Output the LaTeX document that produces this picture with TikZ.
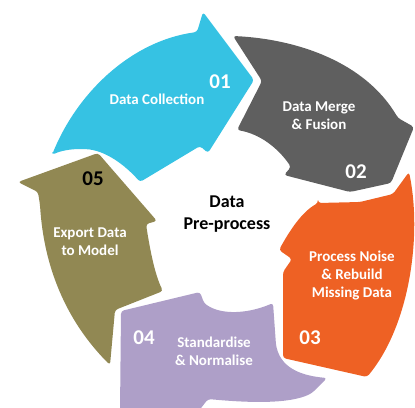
\documentclass[tikz,border=0pt]{standalone}
\usepackage{fontspec}
\newfontfamily\stepfont{Carlito}
\definecolor{collectcyan}{HTML}{36C2E3}
\definecolor{mergegray}{HTML}{5F5F5F}
\definecolor{noiseorange}{HTML}{EE6124}
\definecolor{normpurple}{HTML}{AE9FC8}
\definecolor{exportolive}{HTML}{918853}
\begin{document}
\begin{tikzpicture}[x=1pt,y=-1pt,
  band/.style={rounded corners=3pt},
  steptext/.style={font=\stepfont\bfseries\fontsize{15}{18}\selectfont,text=white,align=center},
  stepnum/.style={font=\stepfont\bfseries\fontsize{21}{21}\selectfont,text=white}]
\useasboundingbox (0,0) rectangle (415,407);

% 01 Data Collection
\fill[collectcyan,band] (52,155) .. controls (77,93) and (131,41) .. (197,32)
  -- (203,12) -- (254,80) -- (208,153) -- (200,146)
  .. controls (180,158) and (160,170) .. (140,182)
  .. controls (125,165) and (105,150) .. (83,149)
  .. controls (70,149) and (60,151) .. (52,155) -- cycle;

% 02 Data Merge & Fusion
\fill[mergegray,band] (233,36) .. controls (297,39) and (365,62) .. (398,118)
  -- (414,127) -- (391,183) -- (350,192) -- (284,175) -- (291,167)
  .. controls (278,148) and (260,134) .. (237,130)
  -- (262,81) -- cycle;

% 03 Process Noise & Rebuild Missing Data
\fill[noiseorange,band] (318,203) -- (360,202) -- (393,194) -- (409,172)
  .. controls (422,235) and (410,325) .. (367,377)
  -- (283,358) -- (283,272) -- (292,259) -- (279,250)
  .. controls (290,230) and (302,212) .. (318,203) -- cycle;

% 04 Standardise & Normalise
\fill[normpurple,band] (273,303) .. controls (250,313) and (222,316) .. (204,303)
  -- (200,292) -- (121,311) -- (120,412) -- (198,412) -- (208,399)
  .. controls (250,403) and (290,404) .. (312,393) -- (327,378)
  .. controls (305,376) and (282,370) .. (276,345) -- cycle;

% 05 Export Data to Model
\fill[exportolive,band] (18,182) -- (98,153) -- (157,221) -- (146,224)
  .. controls (150,250) and (155,275) .. (163,291)
  -- (115,310) -- (110,365)
  .. controls (75,330) and (45,280) .. (40,205)
  -- (38,192) -- cycle;

% Labels
\node[steptext] (collect) at (157,99) {Data Collection};
\node[stepnum] (num01) at (220,82) {01};
\node[steptext] (merge) at (319,116) {Data Merge\\\& Fusion};
\node[stepnum] (num02) at (356,172) {02};
\node[steptext] (noise) at (352,276) {Process Noise\\\& Rebuild\\Missing Data};
\node[stepnum] (num03) at (310,338) {03};
\node[steptext] (norm) at (214,351) {Standardise\\\& Normalise};
\node[stepnum] (num04) at (144,338) {04};
\node[steptext] (export) at (90,242) {Export Data\\to Model};
\node[stepnum,text=black] (num05) at (93,179) {05};

% Centre
\node[font=\stepfont\bfseries\fontsize{18}{22}\selectfont,align=center] (centre) at (227,214) {Data\\Pre-process};
\end{tikzpicture}
\end{document}
